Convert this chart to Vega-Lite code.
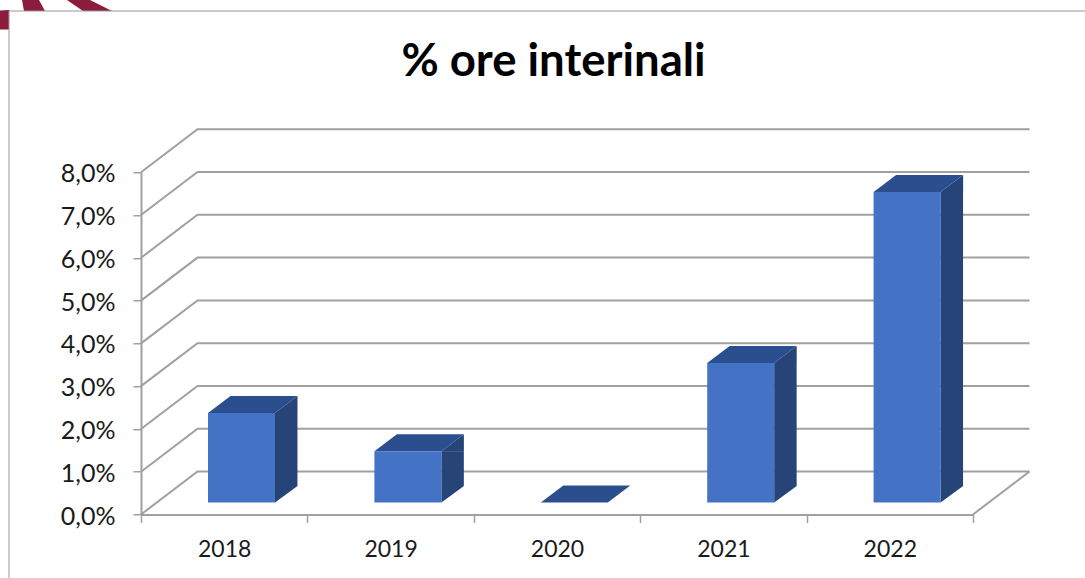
{
"$schema":"https://vega.github.io/schema/vega-lite/v6.json",
"width":832,"height":342.25,
"autosize":"none",
"padding":{"left":141,"top":172.25,"right":112,"bottom":63.5},
"background":"white",
"title":{"text":"% ore interinali","font":"Lato","fontSize":45.5,"fontWeight":"bold","color":"#000000","anchor":"middle","offset":-85,"dx":-3.5},
"view":{"stroke":null},
"datasets":{
"bars":[{"year":"2018","value":2.09},{"year":"2019","value":1.2},{"year":"2020","value":0},{"year":"2021","value":3.26},{"year":"2022","value":7.26}],
"ticks":[{"tick":0},{"tick":1},{"tick":2},{"tick":3},{"tick":4},{"tick":5},{"tick":6},{"tick":7},{"tick":8}]
},
"layer":[
{"data":{"values":[{"item":"logo"}]},
 "mark":{"type":"point","size":4,"filled":true,"opacity":1,"color":"#8B1C3C","clip":false,
 "shape":"M-141,-504 L-132,-504.5 V-485 H-141 Z M-119,-514.5 H-102 L-96,-503.5 H-117 Z M-74,-514.5 H-51 L-29,-503.5 H-58 Z"},
 "encoding":{"x":{"datum":"2018","bandPosition":0,"type":"ordinal"},"y":{"datum":0,"type":"quantitative"}}},
{"data":{"values":[{"item":"frame"}]},
 "mark":{"type":"point","size":4,"filled":false,"opacity":1,"stroke":"#969696","strokeWidth":1,
 "shape":"M-132,64 V-503.5 H944"},
 "encoding":{"x":{"datum":"2018","bandPosition":0,"type":"ordinal"},"y":{"datum":0,"type":"quantitative"}}},
{"data":{"name":"ticks"},
 "mark":{"type":"point","size":4,"filled":false,"opacity":1,"stroke":"#A0A0A0","strokeWidth":2,"shape":"M0,0 L56.5,-43 H888.5"},
 "encoding":{"x":{"datum":"2018","bandPosition":0,"type":"ordinal"},"y":{"field":"tick","type":"quantitative"}}},
{"data":{"values":[{"item":"floor"}]},
 "mark":{"type":"point","size":4,"filled":false,"opacity":1,"stroke":"#A0A0A0","strokeWidth":2,"shape":"M0,0 L56.5,-43"},
 "encoding":{"x":{"datum":"2022","bandPosition":1,"type":"ordinal"},"y":{"datum":0,"type":"quantitative"}}},
{"data":{"name":"bars"},
 "transform":[{"filter":"datum.value>0"}],
 "mark":{"type":"bar","color":"#264478","width":22.5,"xOffset":62,"yOffset":-12,"y2Offset":-28.5},
 "encoding":{"x":{"field":"year","type":"ordinal"},"y":{"field":"value","type":"quantitative"},"y2":{"datum":0}}},
{"data":{"name":"bars"},
 "transform":[{"filter":"datum.value>0"}],
 "mark":{"type":"point","size":4,"filled":true,"opacity":1,"color":"#264478","xOffset":17.3,"yOffset":-12,"shape":"M33.5,0 V-16.5 H56 Z"},
 "encoding":{"x":{"field":"year","type":"ordinal"},"y":{"datum":0,"type":"quantitative"}}},
{"data":{"name":"bars"},
 "transform":[{"filter":"datum.value>0"}],
 "mark":{"type":"point","size":4,"filled":true,"opacity":1,"color":"#264478","xOffset":17.3,"yOffset":-12,"shape":"M33.5,0 L56,-17 V0 Z"},
 "encoding":{"x":{"field":"year","type":"ordinal"},"y":{"field":"value","type":"quantitative"}}},
{"data":{"name":"bars"},
 "mark":{"type":"point","size":4,"filled":true,"opacity":1,"color":"#2B4E8F","xOffset":17.3,"yOffset":-12,"shape":"M-33.5,0 H33.5 L56,-17 H-11 Z"},
 "encoding":{"x":{"field":"year","type":"ordinal"},"y":{"field":"value","type":"quantitative"}}},
{"data":{"name":"bars"},
 "transform":[{"filter":"datum.value>0"}],
 "mark":{"type":"bar","color":"#4472C4","width":67,"xOffset":17.3,"yOffset":-12,"y2Offset":-12},
 "encoding":{
  "x":{"field":"year","type":"ordinal","title":null,"scale":{"type":"band","paddingInner":0,"paddingOuter":0},
   "axis":{"labelAngle":0,"labelAlign":"center","tickBand":"extent","tickSize":8,"tickColor":"#A0A0A0","tickWidth":1.5,"domainColor":"#A0A0A0","domainWidth":2,"labelFont":"Lato","labelFontSize":23,"labelColor":"#1A1A1A","labelPadding":27,"grid":false}},
  "y":{"field":"value","type":"quantitative","title":null,"scale":{"domain":[0,8],"nice":false,"zero":true},
   "axis":{"values":[0,1,2,3,4,5,6,7,8],"labelExpr":"replace(format(datum.value,'.1f'),'.',',')+'%'","tickSize":8,"tickColor":"#A0A0A0","tickWidth":1.5,"domainColor":"#A0A0A0","domainWidth":2,"labelFont":"Lato","labelFontSize":25,"labelColor":"#1A1A1A","labelPadding":18,"labelOffset":1.5,"grid":false}},
  "y2":{"datum":0}}}
]
}
